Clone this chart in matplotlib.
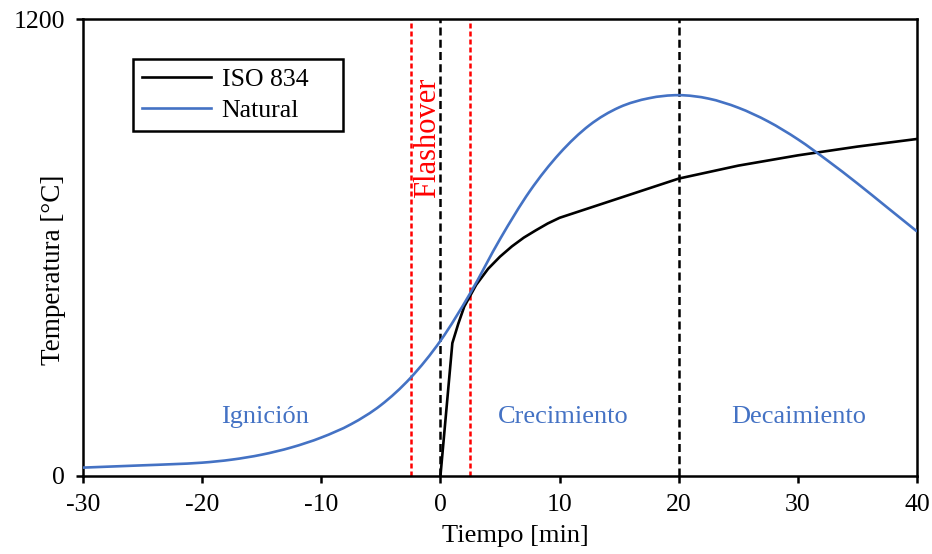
import matplotlib
matplotlib.use('Agg')
import matplotlib.pyplot as plt
from matplotlib.path import Path
from matplotlib.patches import PathPatch

plt.rcParams['font.family'] = ['Liberation Serif', 'DejaVu Serif']
plt.rcParams['axes.unicode_minus'] = False

# ISO 834 standard curve (min, degC)
iso_t = [0, 1, 1.5, 2, 3, 4, 5, 6, 7, 8, 9, 10, 20, 25, 30, 35, 40]
iso_T = [0, 349, 400, 445, 502, 544, 576, 603, 626, 645, 663, 678, 781, 815, 842, 865, 885]

# natural fire curve
nat_t = [-30, -27.5, -25, -22.5, -20, -17.5, -15, -12.5, -10, -7.5, -5, -2.5, 0,
         2.5, 5, 7.5, 10, 12.5, 15, 17.5, 20, 22.5, 25, 27.5, 30, 32.5, 35, 37.5, 40]
nat_T = [22, 25, 28, 31, 35, 43, 56, 75, 101, 136, 186, 258, 355,
         480, 622, 748, 847, 921, 968, 992, 1000, 991, 967, 931, 884, 828, 768, 705, 642]

flashover_t = [-2.5, 2.5]
phase_t = [0, 20]
phases = ['Ignición', 'Crecimiento', 'Decaimiento']
phase_x = [-14.7, 10.3, 30.1]

blue = '#4472C4'


def smooth_path(xs, ys):
    # excel-like smoothed line: bezier segments through the points
    pts = list(zip(xs, ys))
    n = len(pts)
    verts = [pts[0]]
    codes = [Path.MOVETO]
    for i in range(n - 1):
        p0 = pts[max(i - 1, 0)]
        p1 = pts[i]
        p2 = pts[i + 1]
        p3 = pts[min(i + 2, n - 1)]
        c1 = (p1[0] + (p2[0] - p0[0]) / 6, p1[1] + (p2[1] - p0[1]) / 6)
        c2 = (p2[0] - (p3[0] - p1[0]) / 6, p2[1] - (p3[1] - p1[1]) / 6)
        verts += [c1, c2, p2]
        codes += [Path.CURVE4] * 3
    return Path(verts, codes)


fig = plt.figure(figsize=(9.32, 5.54), dpi=100)
ax = fig.add_axes([0.089, 0.1408, 0.895, 0.8249])

for x in phase_t:
    ax.axvline(x, color='k', lw=1.8, ls=(0, (3.2, 1.7)), zorder=1)
for x in flashover_t:
    ax.axvline(x, color='#FF0000', lw=1.8, ls=(0, (2, 1.2)), zorder=1)

ax.plot(iso_t, iso_T, color='k', lw=1.9, label='ISO 834', zorder=3)
ax.add_patch(PathPatch(smooth_path(nat_t, nat_T), facecolor='none',
                       edgecolor=blue, lw=1.9, zorder=3))
ax.plot([], [], color=blue, lw=1.9, label='Natural')

for name, x in zip(phases, phase_x):
    ax.text(x, 155, name, color=blue, fontsize=19, ha='center', va='center')
ax.text(-1.04, 888, 'Flashover', color='#FF0000', fontsize=22, rotation=90,
        ha='center', va='center')

ax.set_xlim(-30, 40)
ax.set_ylim(0, 1200)
ax.set_xticks(range(-30, 41, 10))
ax.set_yticks([0, 1200])
ax.tick_params(direction='out', length=5, width=1.8, labelsize=18.5, pad=8)
for s in ax.spines.values():
    s.set_linewidth(1.8)

ax.set_xlabel('Tiempo [min]', fontsize=19)
ax.set_ylabel('Temperatura [°C]', fontsize=19.5)
ax.xaxis.set_label_coords(0.518, -0.108)
ax.yaxis.set_label_coords(-0.02, 0.451)

leg = ax.legend(loc='upper left', bbox_to_anchor=(0.06, 0.7535, 0.252, 0.159),
                mode='expand', fontsize=18.5,
                frameon=True, fancybox=False, edgecolor='k', framealpha=1,
                handlelength=2.7, handletextpad=0.4, borderpad=0.35,
                labelspacing=0.3, borderaxespad=0)
leg.get_frame().set_linewidth(1.8)

fig.savefig('out.png', dpi=100)
